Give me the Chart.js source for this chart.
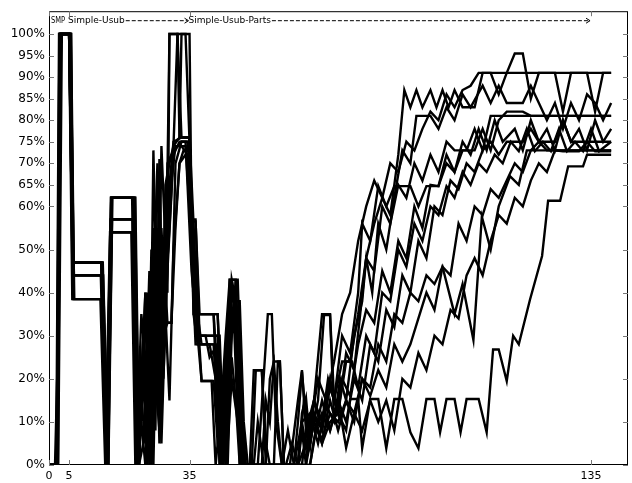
<!DOCTYPE html>
<html>
<head>
<meta charset="utf-8">
<script src="https://cdn.jsdelivr.net/npm/chart.js@4/dist/chart.umd.min.js"></script>
<style>
  html,body{margin:0;padding:0;background:#fff;}
  #wrap{width:632px;height:483px;}
</style>
</head>
<body>
<div id="wrap"><canvas id="runChart"></canvas></div>
<script>
// tick values
const xTicks = [0, 5, 35, 135];
const yTicks = [0, 10, 20, 30, 40, 50, 60, 65, 70, 75, 80, 85, 90, 95, 100];

// phase annotation across the top
const phaseLabels = ['SMP', 'Simple-Usub', 'Simple-Usub-Parts'];
const phaseStarts = [0, 5, 35];
const phaseEnds = [5, 35, 135];

// runs: [time, percent] vertices
const run1 = [[0,0],[2,0],[3,100],[5,100],[6,47],[13,47],[14.5,0],[15.5,62],[21,62],[22,0],
  [24,40],[25,0],[26,73],[27,30],[28,55],[29,35],[30,100],[32,100],[33,76],[35,76],[36,56],[37,35],[42,35],[43.5,0],
  [45,43],[47,43],[48.5,0],[50,0],[51,22],[53,22],[54,0],[60,0],[62,15],[63,22],[64,8],[66,15],[68,35],[70,35],[71,15],[73,24],[75,24],
  [77,35],[79,48],[81,56],[83,62],[85,58],[87,72],[88.5,87],[90,83],[91.5,87],[93,83],[95,87],[96.5,83],[98,87],[99.5,83],[101,87],[103,83],[106,83],[108,91],[140,91]];
const run2 = [[0,0],[1.5,0],[2.3,30],[2.8,100],[5.5,100],[6,44],[13.3,44],[14.7,0],[15.7,57],[21,57],[22.3,0],
  [23.5,25],[24.5,0],[25.5,40],[26.5,8],[27.5,71],[28.5,20],[30,60],[31,74],[32.5,76],[33,100],[35,100],[35.5,57],[36.5,57],[37.5,30],[42,30],[43,0],
  [44.5,35],[46,40],[47,20],[48,0],[52,0],[54.5,35],[55.5,35],[56.5,10],[58,0],[62,0],[63.5,15],[65,8],[67,20],[69,15],[71,24],[73,35],[75,40],
  [77,52],[79,60],[81,66],[83,62],[85,70],[87,68],[89,75],[91,73],[93,78],[95,82],[97,80],[99,86],[101,83],[103,87],[105,88],[107,91],[110,91],
  [112,86],[114,91],[116,95.5],[118,95.5],[120,85],[122,91],[126,91],[128,82],[130,91],[134,91],[136,82],[138,91],[140,91]];
const run3 = [[0,0],[2,0],[2.7,100],[5,100],[6,38.5],[13,38.5],[14.5,0],[15.5,54],[21.3,54],[22,0],
  [23,20],[24.5,35],[25.5,0],[26.5,60],[27.5,10],[28.5,50],[29.5,33],[30.5,33],[31.5,70],[33,75],[34,75],[35.5,45],[36.5,35],[42,35],[43,15],[44,0],
  [45.5,38],[47.5,38],[48.5,10],[49.5,0],[56,0],[57,24],[57.5,24],[58.5,0],[64,0],[65,10],[66,15],[68,10],[69.5,20],[71,15],[73,30],[75,26],
  [77,40],[78,56],[80,52],[82,64.7],[84,60],[86,64.7],[90,64.7],[92,60],[94,64.7],[97,64.7],[99,70],[101,68],[103,73],[106,73],[108,78],[110,73],
  [112,80],[114,82],[118,82],[120,81],[140,81]];
const run4 = [[0,0],[1.8,0],[2.5,100],[5.2,100],[6,47],[13.2,47],[14.3,0],[15.3,57],[20.8,57],[21.8,0],
  [22.5,10],[23.5,30],[24.5,5],[25.5,50],[26.5,20],[27.5,65],[28.5,25],[29.5,45],[31,72],[32.5,75],[34.5,75],[35.5,62],[36,35],[37,28],[41.5,28],[42.5,0],
  [44,25],[45.5,43],[47,30],[48,0],[50.5,0],[51.5,22],[53,22],[54,5],[55,0],[61,0],[62,10],[63,21.7],[64.5,5],[66,12],[68,8],[70,18],[72,12],[74,26],[76,22],
  [77.5,35],[79,48],[80.5,40],[82,56],[84,50],[86,62],[88,73],[90,70],[91.5,81],[95,81],[97,78],[99,83],[101,80],[103,86],[105,83],[108,88],[110,84],
  [112,88],[114,84],[118,84],[120,88],[122,84],[124,80],[126,84],[128,78],[130,84],[132,80],[134,86],[136,84],[138,80],[140,84]];
const run5 = [[0,0],[2.2,0],[3,100],[5.5,100],[6.2,44],[13,44],[14.5,0],[15.6,62],[21.5,62],[22.5,0],
  [24,40],[25,10],[26,55],[27,15],[28,74],[29.5,40],[30,100],[32,100],[32.5,76],[35,76],[36,45],[37,30],[42.5,30],[43.5,5],[44.5,0],
  [45.5,30],[46.5,43],[47.5,20],[49,0],[53,0],[54,15],[55,10],[56,24],[57.5,24],[58.5,0],[62,0],[63,12],[64,15.6],[65,5],[67,15],[68.5,34.8],[70,34.8],
  [71,10],[72.5,20],[74,15],[76,30],[78,38],[79,48],[81,45],[83,60],[85,56],[87,65],[89,62],[91,70],[93,66],[95,72],[97,68],[99,75],[101,73],
  [104,73],[106,78],[108,73],[110,81],[140,81]];
const run6 = [[0,0],[2,0],[2.6,100],[5,100],[5.8,38.5],[12.8,38.5],[14,0],[15.2,54],[21,54],[22,0],
  [23,15],[24,5],[25,35],[26,0],[27,45],[28,10],[29,60],[30.5,66],[31.5,74],[33,74],[34.5,72],[35.5,50],[36.5,28],[40,28],[41.5,20],[42.5,0],
  [44,10],[45,30],[46.5,35],[48,5],[49,0],[58,0],[59.5,8],[61,0],[63,10],[65,12],[67,5],[69,14],[71,10],[73,20],[75,16],[77,28],[79,36],[81,33],
  [83,45],[85,40],[87,52],[89,48],[91,60],[93,55],[95,65],[97,64.7],[99,72],[101,68],[103,75],[105,72],[107,78],[109,73],[111,80],[113,75],
  [116,78],[118,73],[120,80],[122,75],[124,78],[126,73],[128,80],[130,75],[132,78],[134,73],[136,80],[138,75],[140,78]];
const run7 = [[0,0],[1.7,0],[2.4,30],[2.9,100],[5.3,100],[6,47],[13,47],[14.8,0],[15.8,62],[21.2,62],[22.2,0],
  [23.5,30],[24.5,40],[25.5,10],[26.5,40],[27.5,5],[28.5,40],[29.5,60],[31,75],[33,76],[35,76],[36,40],[37,35],[38,19.5],[40.5,19.5],[41.5,0],
  [43,15],[44,30],[45,43],[46.5,43],[47.5,15],[48.5,0],[51,0],[52,10],[53.5,0],[65,0],[66.5,8],[68,12],[70,8],[72,15],[74,10],[76,20],[78,15],
  [80,28],[82,24],[84,36],[86,32],[88,44],[90,40],[92,52],[94,48],[96,60],[98,58],[100,66],[102,64],[104,70],[106,68],[108,73],[110,75],[112,72],
  [114,75],[118,75],[120,78],[122,75],[126,75],[128,80],[130,75],[140,75]];
const run8 = [[0,0],[2,0],[3,100],[5,100],[6,44],[13.5,44],[14.8,0],[15.5,57],[21,57],[22,0],
  [23,25],[24,15],[25,45],[26,5],[27,55],[28,25],[29,65],[30,70],[31,74],[32,100],[34,100],[35,75],[36,50],[37,30],[39,30],[40,25],[42,28],[43,0],
  [45,25],[46,35],[47,10],[48,0],[62,0],[63,8],[64,0],[66,10],[68,5],[70,15],[72,8],[74,15],[76,10],[78,20],[80,18],[82,28],[84,24],[86,35],[88,33],
  [90,40],[92,38],[94,44],[96,42],[98,46],[101,35],[103,42],[105.7,29],[107.8,57.6],[110,50],[112,60],[114.8,67],[117,65],[119,73],[140,73]];
const run9 = [[0,0],[2.3,0],[3.2,100],[5.3,100],[6.3,38.5],[13.5,38.5],[14.6,0],[15.3,54],[20.5,54],[21.5,0],
  [22.5,5],[23.5,20],[24.5,0],[25.5,30],[26.5,15],[27.5,50],[28.5,30],[29.5,70],[30.5,72],[32,74],[34,74],[35,60],[36,45],[37,35],[41,35],[42,10],[43,0],
  [44.5,20],[45.5,43],[46.5,38],[47.5,0],[54,0],[55,20],[56,24],[57,10],[58,0],[62,0],[63,10],[64,4],[66,15],[68,8],[70,20],[72,12],[74,24],[75.5,24],
  [77,18],[79,30],[81,26],[83,40],[85,38],[87,50],[89,46],[91,56],[93,52],[95,60],[97,58],[99,64.7],[101,62],[103,68],[105,65],[107,70],[109,68],
  [111,72],[113,70],[115,75],[117,72.8],[119,78],[121,72.8],[123,75],[125,72.8],[127,78],[129,72.8],[131,75],[133,72.8],[135,78],[137,72.8],[140,75]];
const run10 = [[0,0],[1.9,0],[2.6,100],[5,100],[5.9,44],[12.9,44],[14.2,0],[15.4,62],[20.7,62],[21.7,0],
  [23,35],[24,25],[25,5],[26,40],[27,70],[28,20],[29,40],[30,55],[31,73],[33,75],[35,75],[35.5,56.5],[36.5,56.5],[37.5,35],[41,35],[42,20],[43,0],
  [44,15],[45,40],[46.5,30],[47.5,5],[48.5,0],[59,0],[60.5,5],[62,0],[64,5],[66,10],[68,6],[70,12],[72,10],[74,15],[76,12],[78,20],[80,16],[82,22],
  [84,18],[86,28],[88,24],[90,28],[92,34],[94,40],[96,36],[98,46],[100,44],[102,56],[104,52],[106,60],[108,58],[110,64],[112,62],[114,66],[116,70],
  [118,68],[120,73],[122,75],[124,73],[140,73]];
const run11 = [[0,0],[2.1,0],[2.9,100],[5.4,100],[6.1,47],[13.4,47],[14.6,0],[15.6,57],[21.1,57],[22.1,0],
  [23,10],[24,0],[25,20],[26,8],[27,30],[28,5],[29,35],[30,15],[31,50],[32.5,70],[34,72],[35,70],[36,35],[37,35],[38,28],[41,28],[42,10],[43,0],
  [44.5,10],[45.5,25],[46.5,15],[47.5,0],[65,0],[66,6],[68,15],[70,8],[72,15],[74,4],[76,12],[78,8],[80,15],[82,10],[84,15],[86,8],[88,20],[90,18],
  [92,26],[94,22],[96,30],[98,28],[100,36],[102,34],[104,44],[106,48],[108,44],[110,52],[112,58],[114,56],[116,62],[118,60],[120,66],[122,70],
  [124,68],[126,73],[128,72.8],[132,72.8],[134,75],[136,72.8],[140,72.8]];
const run12 = [[0,0],[2,0],[2.8,100],[5.1,100],[5.8,47],[13,47],[14.4,0],[15.5,62],[21.4,62],[22.4,0],
  [23.5,5],[24.5,30],[25.5,0],[26.5,20],[27.5,8],[28.5,30],[29.5,33],[30.5,33],[31.5,55],[32.5,70],[33.5,73],[35,73],[36,50],[37,30],[38,19.5],[41,19.5],[42,5],[43,0],
  [44.5,5],[45.5,20],[47,10],[48,0],[63,0],[64,8],[65,4],[66,12],[68,5],[70,10],[72,12],[74,8],[75,15.3],[77,15.3],[78,3.9],[80,15.3],[82,15.3],
  [84,3.9],[86,15.3],[88,15.3],[90,7.6],[92,3.9],[94,15.3],[96,15.3],[97.4,7.6],[99,15.3],[101,15.3],[102.5,7.6],[104,15.3],[107,15.3],[109,7.6],
  [110.6,26.8],[112,26.8],[114,19.5],[115.6,30],[117,28],[119.8,38.4],[122.8,48.5],[124.3,61.3],[127.3,61.3],[129.3,69.3],[133,69.3],[134,72],[140,72]];

const runs = [run1, run2, run3, run4, run5, run6, run7, run8, run9, run10, run11, run12];

const FONT = '"DejaVu Sans", "Liberation Sans", sans-serif';

// box, inward tick marks and the phase annotation
const frame = {
  id: 'frame',
  afterDraw(chart) {
    const {ctx, chartArea: a, scales: {x, y}} = chart;
    ctx.save();
    ctx.strokeStyle = '#000';
    ctx.lineWidth = 1;
    ctx.strokeRect(a.left + 0.5, a.top + 0.5, a.right - a.left - 1, a.bottom - a.top - 1);
    ctx.strokeStyle = '#777';
    ctx.beginPath();
    xTicks.forEach(v => {
      const px = Math.round(x.getPixelForValue(v)) + 0.5;
      ctx.moveTo(px, a.bottom); ctx.lineTo(px, a.bottom - 5);
      ctx.moveTo(px, a.top); ctx.lineTo(px, a.top + 5);
    });
    yTicks.forEach(v => {
      const py = Math.round(y.getPixelForValue(v)) + 0.5;
      ctx.moveTo(a.left, py); ctx.lineTo(a.left + 5, py);
      ctx.moveTo(a.right, py); ctx.lineTo(a.right - 5, py);
    });
    ctx.stroke();

    ctx.fillStyle = '#000';
    ctx.strokeStyle = '#000';
    ctx.font = '9px ' + FONT;
    ctx.textBaseline = 'middle';
    const ty = a.top + 9;
    phaseLabels.forEach((lab, i) => {
      const x0 = i === 0 ? a.left + 2 : x.getPixelForValue(phaseStarts[i]) - 1;
      const x1 = x.getPixelForValue(phaseEnds[i]);
      if (i === 0) { ctx.fillText(lab, x0, ty, x1 - x0 - 4); return; }
      ctx.fillText(lab, x0, ty);
      const w = ctx.measureText(lab).width;
      ctx.setLineDash([4, 2]);
      ctx.beginPath();
      ctx.moveTo(x0 + w + 1, ty + 0.5);
      ctx.lineTo(x1 - 2, ty + 0.5);
      ctx.stroke();
      ctx.setLineDash([]);
      ctx.beginPath();
      ctx.moveTo(x1 - 5, ty - 2); ctx.lineTo(x1 - 1, ty + 0.5); ctx.lineTo(x1 - 5, ty + 3);
      ctx.stroke();
    });
    ctx.restore();
  }
};

new Chart(document.getElementById('runChart').getContext('2d'), {
  type: 'line',
  data: {
    datasets: runs.map((r, i) => ({
      label: 'run ' + (i + 1),
      data: r.map(p => ({x: p[0], y: p[1]})),
      borderColor: '#000',
      borderWidth: 2.4,
      pointRadius: 0,
      tension: 0,
      fill: false
    }))
  },
  options: {
    responsive: true,
    maintainAspectRatio: false,
    animation: false,
    layout: {padding: {top: 5, right: 4, left: 0, bottom: 0}},
    plugins: {legend: {display: false}, tooltip: {enabled: false}},
    scales: {
      x: {
        type: 'linear', min: 0, max: 144.2,
        afterBuildTicks: s => { s.ticks = xTicks.map(v => ({value: v})); },
        afterFit: s => { s.height = 18; },
        grid: {display: false, drawTicks: false},
        border: {display: false},
        ticks: {color: '#000', padding: 5, maxRotation: 0, font: {family: FONT, size: 11}}
      },
      y: {
        type: 'linear', min: 0, max: 105.3,
        afterBuildTicks: s => { s.ticks = yTicks.map(v => ({value: v})); },
        afterFit: s => { s.width = 49; },
        grid: {display: false, drawTicks: false},
        border: {display: false},
        ticks: {color: '#000', padding: 4, font: {family: FONT, size: 12}, callback: v => v + '%'}
      }
    }
  },
  plugins: [frame]
});
</script>
</body>
</html>
